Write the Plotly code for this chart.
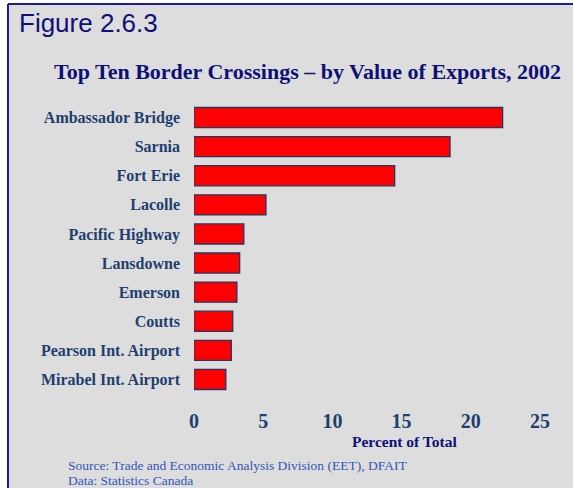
import plotly.graph_objects as go

crossings = [
    "Ambassador Bridge",
    "Sarnia",
    "Fort Erie",
    "Lacolle",
    "Pacific Highway",
    "Lansdowne",
    "Emerson",
    "Coutts",
    "Pearson Int. Airport",
    "Mirabel Int. Airport",
]
pct_of_total = [22.3, 18.5, 14.5, 5.2, 3.6, 3.3, 3.1, 2.8, 2.7, 2.3]
x_ticks = [0, 5, 10, 15, 20, 25]

NAVY = "#0F0F78"
LABEL = "#1F3F6F"
SERIF = "Liberation Serif, Times New Roman, serif"

# plot area in pixels: x 194..540, y 103..394
PX_L, PX_R, PY_T, PY_B = 194, 540, 103, 394


def px(x):
    return (x - PX_L) / (PX_R - PX_L)


def py(y):
    return (PY_B - y) / (PY_B - PY_T)


fig = go.Figure(
    go.Bar(
        x=pct_of_total,
        y=crossings,
        orientation="h",
        marker=dict(color="#FF0000", line=dict(color="#1F3864", width=1.3)),
        hoverinfo="x+y",
    )
)

fig.update_layout(
    width=573,
    height=488,
    margin=dict(l=PX_L, r=573 - PX_R, t=PY_T, b=488 - PY_B),
    paper_bgcolor="#DDDDDD",
    plot_bgcolor="#DDDDDD",
    bargap=0.31,
    showlegend=False,
    xaxis=dict(
        range=[0, 25],
        tickvals=x_ticks,
        showgrid=False,
        zeroline=False,
        showline=False,
        ticks="",
        ticklabelstandoff=13,
        tickfont=dict(family=SERIF, size=20, color=LABEL, weight="bold"),
        fixedrange=True,
    ),
    yaxis=dict(
        autorange="reversed",
        showgrid=False,
        zeroline=False,
        showline=False,
        ticks="",
        ticklabelstandoff=13,
        tickfont=dict(family=SERIF, size=16, color=LABEL, weight="bold"),
        fixedrange=True,
    ),
    shapes=[
        # white strips outside the frame
        dict(type="rect", xref="paper", yref="paper", x0=px(0), x1=px(8), y0=py(488), y1=py(0),
             fillcolor="white", line=dict(width=0), layer="below"),
        dict(type="rect", xref="paper", yref="paper", x0=px(0), x1=px(573), y0=py(4), y1=py(0),
             fillcolor="white", line=dict(width=0), layer="below"),
        # frame lines
        dict(type="line", xref="paper", yref="paper", x0=px(8), x1=px(8), y0=py(488), y1=py(4),
             line=dict(color="#1A1A9A", width=2)),
        dict(type="line", xref="paper", yref="paper", x0=px(8), x1=px(573), y0=py(4), y1=py(4),
             line=dict(color="#1A1A9A", width=2)),
    ],
    annotations=[
        dict(text="Figure 2.6.3", xref="paper", yref="paper", x=px(17), y=py(23),
             xanchor="left", yanchor="middle", showarrow=False,
             font=dict(family="Liberation Sans, Arial, sans-serif", size=26, color=NAVY)),
        dict(text="Top Ten Border Crossings \u2013 by Value of Exports, 2002",
             xref="paper", yref="paper", x=px(307), y=py(72),
             xanchor="center", yanchor="middle", showarrow=False,
             font=dict(family=SERIF, size=22, color=NAVY, weight="bold")),
        dict(text="Percent of Total", xref="paper", yref="paper", x=px(404), y=py(441),
             xanchor="center", yanchor="middle", showarrow=False,
             font=dict(family=SERIF, size=15.5, color=NAVY, weight="bold")),
        dict(text="Source: Trade and Economic Analysis Division (EET), DFAIT",
             xref="paper", yref="paper", x=px(66), y=py(465),
             xanchor="left", yanchor="middle", showarrow=False,
             font=dict(family=SERIF, size=13.5, color="#3355BB")),
        dict(text="Data: Statistics Canada",
             xref="paper", yref="paper", x=px(66), y=py(480),
             xanchor="left", yanchor="middle", showarrow=False,
             font=dict(family=SERIF, size=13.5, color="#3355BB")),
    ],
)

fig.write_html(
    "out.html",
    config={"displayModeBar": False},
    post_script="document.body.style.margin='0';",
)
